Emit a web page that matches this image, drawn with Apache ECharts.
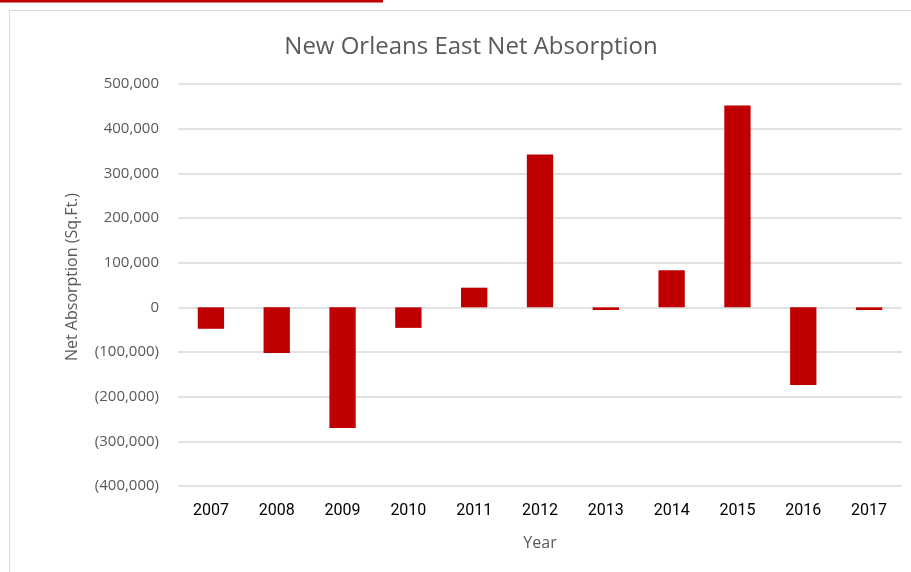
<!DOCTYPE html>
<html>
<head>
<meta charset="utf-8">
<script src="https://cdn.jsdelivr.net/npm/echarts@6/dist/echarts.min.js"></script>
<style>
html,body{margin:0;padding:0;background:#fff;}
#chart{width:911px;height:572px;}
</style>
</head>
<body>
<div id="chart"></div>
<script>
const years = ['2007','2008','2009','2010','2011','2012','2013','2014','2015','2016','2017'];
const netAbsorption = [-48000, -102000, -270000, -46000, 44000, 342000, -6000, 83000, 452000, -174000, -6000];
const yTicks = { min: -400000, max: 500000, interval: 100000 };

const chart = echarts.init(document.getElementById('chart'));
const fmt = v => {
  const s = Math.abs(v).toLocaleString('en-US');
  return v < 0 ? '(' + s + ')' : s;
};
chart.setOption({
  animation: false,
  title: {
    text: 'New Orleans East Net Absorption',
    left: 466, top: 30, textAlign: 'center',
    textStyle: { fontFamily: 'Open Sans', fontSize: 24, fontWeight: 'normal', color: '#595959' }
  },
  graphic: [
    { type: 'rect', shape: { x: 0, y: 0, width: 383, height: 2.5 }, style: { fill: '#c00000' } },
    { type: 'line', shape: { x1: 9, y1: 10.5, x2: 911, y2: 10.5 }, style: { stroke: '#d9d9d9', lineWidth: 1 } },
    { type: 'line', shape: { x1: 9.5, y1: 10, x2: 9.5, y2: 572 }, style: { stroke: '#d9d9d9', lineWidth: 1 } }
  ],
  grid: { left: 178, right: 9, top: 84, bottom: 86, containLabel: false },
  xAxis: {
    type: 'category',
    data: years,
    position: 'bottom',
    name: 'Year', nameLocation: 'middle', nameGap: 49,
    nameTextStyle: { fontFamily: 'Open Sans', fontSize: 16, color: '#595959' },
    axisLine: { show: false },
    axisTick: { show: false },
    axisLabel: { margin: 17, fontFamily: 'Roboto', fontSize: 16, color: '#000' }
  },
  yAxis: {
    type: 'value',
    min: yTicks.min, max: yTicks.max, interval: yTicks.interval,
    name: 'Net Absorption (Sq.Ft.)', nameLocation: 'middle', nameGap: 98,
    nameTextStyle: { fontFamily: 'Open Sans', fontSize: 16, color: '#595959', padding: [0, 0, 0, 16] },
    axisLine: { show: false },
    axisTick: { show: false },
    splitLine: { lineStyle: { color: '#d9d9d9', width: 1.5 } },
    axisLabel: { margin: 19, fontFamily: 'Open Sans', fontSize: 15, color: '#595959', formatter: fmt }
  },
  series: [{
    type: 'bar',
    data: netAbsorption,
    barWidth: '40%',
    itemStyle: { color: '#c00000' }
  }]
});
</script>
</body>
</html>
